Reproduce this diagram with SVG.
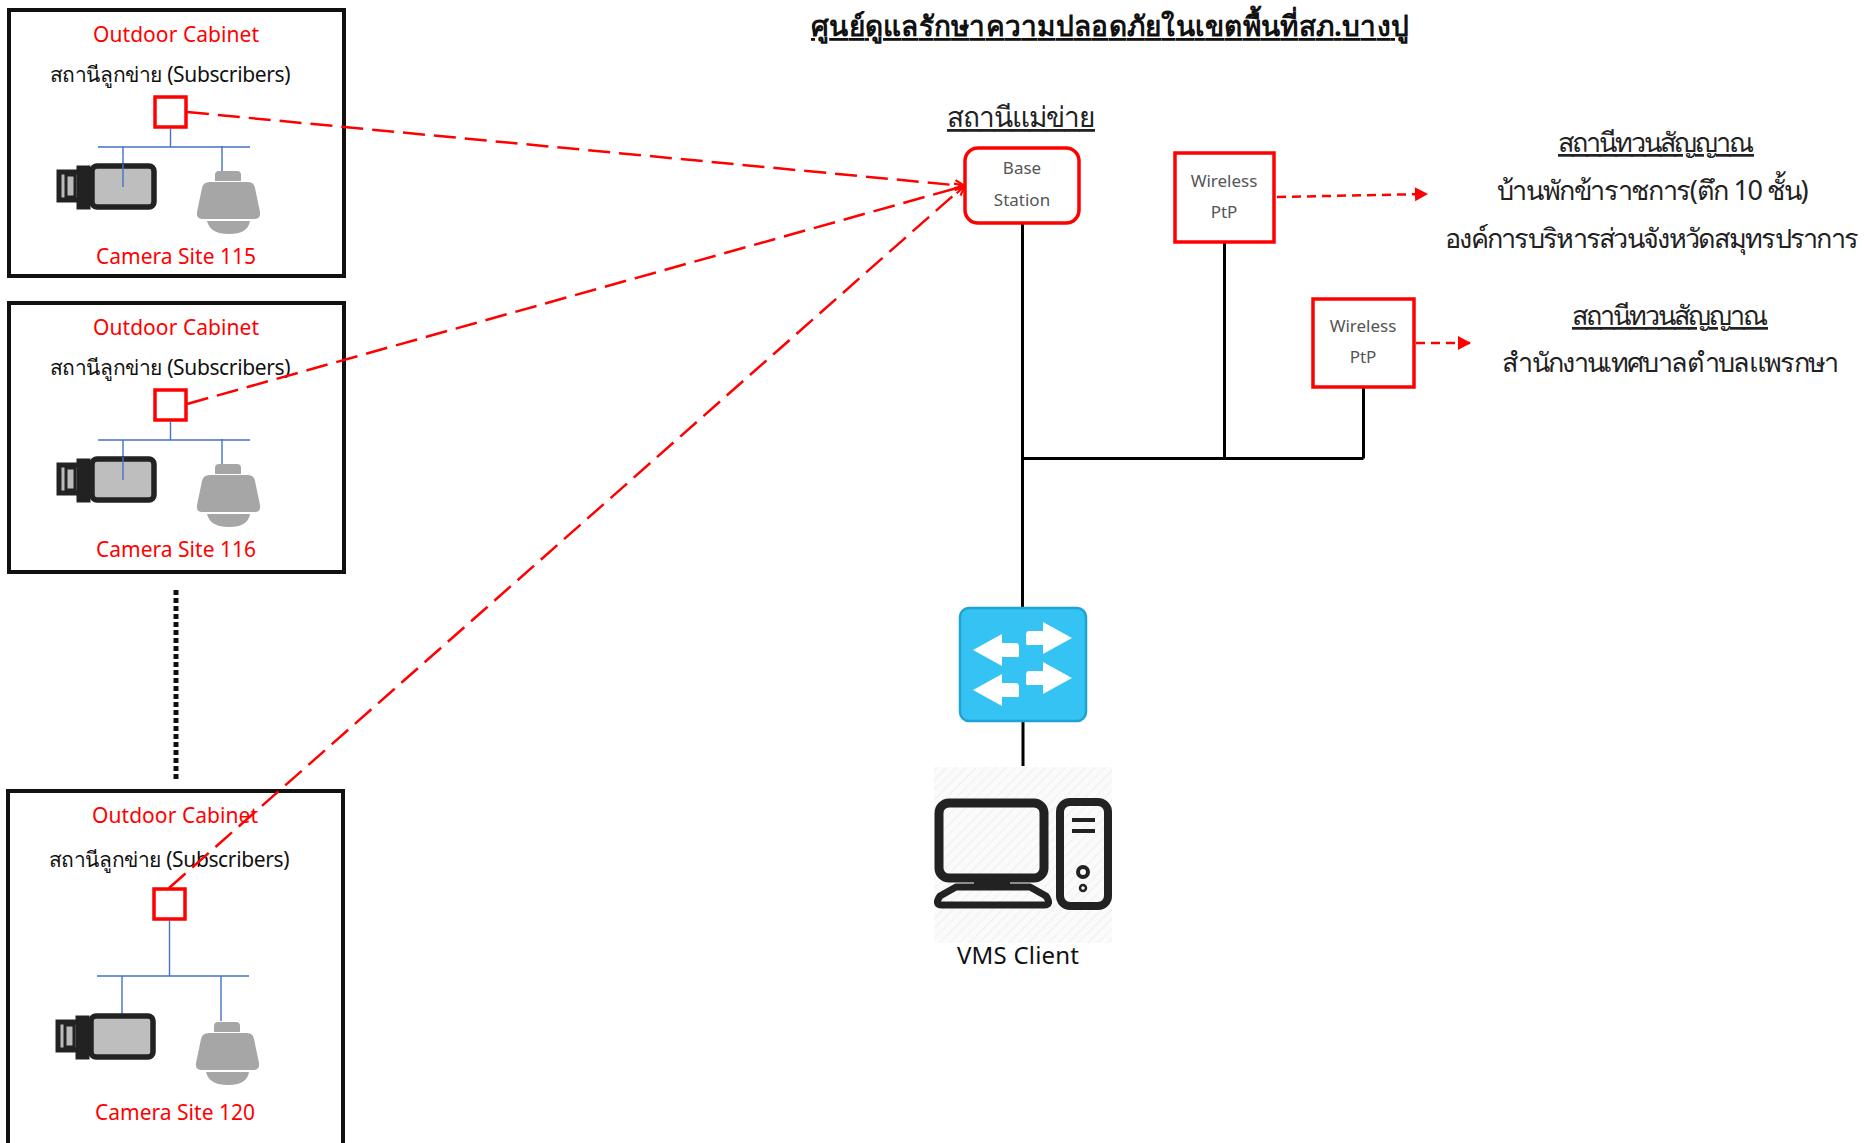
<svg xmlns="http://www.w3.org/2000/svg" xmlns:xlink="http://www.w3.org/1999/xlink" width="1865" height="1143" viewBox="0 0 1865 1143">
<style>
text{font-family:"Noto Sans","Open Sans","DejaVu Sans",sans-serif;text-anchor:middle}
.red{fill:#f00;font-size:21px}
.blk{fill:#111;font-size:21px}
.th{fill:#222;font-size:27px}
.sm{fill:#555;font-size:17px}
.box{fill:#fff;stroke:#111;stroke-width:4}
.rsq{fill:#fff;stroke:#f00;stroke-width:3.5}
.blue{stroke:#4472c4;stroke-width:1.4;fill:none}
.dash{stroke:#f00;stroke-width:2.5;fill:none;stroke-dasharray:22 9}
.dash2{stroke:#f00;stroke-width:2.5;fill:none;stroke-dasharray:9 6}
.wire{stroke:#000;stroke-width:3;fill:none}
</style>
<defs>
<marker id="open" markerWidth="12" markerHeight="12" refX="10" refY="6" orient="auto" markerUnits="userSpaceOnUse"><path d="M1 1L11 6L1 11" fill="none" stroke="#f00" stroke-width="2.2"/></marker>
<marker id="tri" markerWidth="16" markerHeight="16" refX="13" refY="8" orient="auto" markerUnits="userSpaceOnUse"><path d="M1 1L14 8L1 15Z" fill="#f00"/></marker>
<pattern id="hatch" width="7" height="7" patternUnits="userSpaceOnUse" patternTransform="rotate(-45)"><rect width="7" height="7" fill="#fbfbfb"/><rect width="7" height="2" fill="#f4f4f4"/></pattern>
<g id="cam">
<rect x="59" y="172" width="24" height="28" fill="#bbb" stroke="#222" stroke-width="5"/>
<rect x="66" y="175" width="9" height="22" fill="#bbb" stroke="#222" stroke-width="3"/>
<rect x="78" y="167" width="11" height="41" fill="#222" stroke="#222" stroke-width="3"/>
<rect x="92" y="166" width="62" height="41" rx="5" fill="#bebebe" stroke="#222" stroke-width="5.500"/>
</g>
<g id="dome">
<path d="M215 181v-6q0-4 4-4h18q4 0 4 4v6z" fill="#a6a6a6"/>
<path d="M210 182h38q6 0 7 6l5 24q1 7-5 7H202q-6 0-5-7l5-24q1-6 8-6z" fill="#a6a6a6"/>
<path d="M207 221h43q-2 13-21 13t-22-13z" fill="#a6a6a6"/>
</g>
</defs>
<rect width="1865" height="1143" fill="#fff"/>
<text id="title" x="1110" y="36" style="font-size:28px;font-weight:700;text-decoration:underline" fill="#111" textLength="598">ศูนย์ดูแลรักษาความปลอดภัยในเขตพื้นที่สภ.บางปู</text>
<g id="site115">
<rect class="box" x="9" y="10" width="335" height="266"/>
<text class="red" x="176" y="42" textLength="166">Outdoor Cabinet</text>
<text class="blk" x="170" y="82" textLength="241">สถานีลูกข่าย (Subscribers)</text>
<rect class="rsq" x="155" y="97" width="31" height="30"/>
<path class="blue" d="M170.500 128V147M98 147H250M123 147V187M222 146V171"/>
<use xlink:href="#cam"/><use xlink:href="#dome"/>
<path class="blue" d="M123 164V187"/>
<text class="red" x="176" y="264" textLength="160">Camera Site 115</text>
</g>
<g id="site116" transform="translate(0 293)">
<rect class="box" x="9" y="10" width="335" height="269"/>
<text class="red" x="176" y="42" textLength="166">Outdoor Cabinet</text>
<text class="blk" x="170" y="82" textLength="241">สถานีลูกข่าย (Subscribers)</text>
<rect class="rsq" x="155" y="97" width="31" height="30"/>
<path class="blue" d="M170.500 128V147M98 147H250M123 147V187M222 146V171"/>
<use xlink:href="#cam"/><use xlink:href="#dome"/>
<path class="blue" d="M123 164V187"/>
<text class="red" x="176" y="264" textLength="160">Camera Site 116</text>
</g>
<g id="site120">
<rect class="box" x="8" y="791" width="335" height="360"/>
<text class="red" x="175" y="823" textLength="166">Outdoor Cabinet</text>
<text class="blk" x="169" y="867" textLength="241">สถานีลูกข่าย (Subscribers)</text>
<rect class="rsq" x="154" y="889" width="31" height="30"/>
<path class="blue" d="M169.500 920V976M97 976H249M122 976V1016M221 976V1021"/>
<use xlink:href="#cam" transform="translate(-1 850)"/><use xlink:href="#dome" transform="translate(-1 851)"/>
<text class="red" x="175" y="1120" textLength="160">Camera Site 120</text>
</g>
<g id="connectors">
<path class="dash" marker-end="url(#open)" d="M187 112L964 186"/>
<path class="dash" marker-end="url(#open)" d="M187 404L964 186"/>
<path class="dash" marker-end="url(#open)" d="M169 888L964 186"/>
<path d="M176 590V780" stroke="#111" stroke-width="5" stroke-dasharray="5 3" fill="none"/>
<path class="dash2" marker-end="url(#tri)" d="M1277 197L1427 194"/>
<path class="dash2" marker-end="url(#tri)" d="M1401 343L1470 343"/>
<path class="wire" d="M1022.500 223V608M1022.500 458.500H1363.500M1224.500 242V458.500M1363.500 387V458.500M1023 721V766"/>
</g>
<text id="mainlabel" x="1021" y="127" style="font-size:28px;text-decoration:underline" fill="#222" textLength="148">สถานีแม่ข่าย</text>
<g id="base">
<rect x="965" y="148" width="114" height="75" rx="13" fill="#fff" stroke="#f00" stroke-width="3.500"/>
<text class="sm" x="1022" y="174">Base</text>
<text class="sm" x="1022" y="206">Station</text>
</g>
<g id="ptp1">
<rect x="1175" y="153" width="99" height="89" fill="#fff" stroke="#f00" stroke-width="3.500"/>
<text class="sm" x="1224" y="187">Wireless</text>
<text class="sm" x="1224" y="218">PtP</text>
</g>
<g id="ptp2">
<rect x="1313" y="299" width="101" height="88" fill="#fff" stroke="#f00" stroke-width="3.500"/>
<text class="sm" x="1363" y="332">Wireless</text>
<text class="sm" x="1363" y="363">PtP</text>
</g>
<g id="relay1">
<text class="th" x="1656" y="152" style="text-decoration:underline" textLength="196">สถานีทวนสัญญาณ</text>
<text class="th" x="1652" y="200" textLength="312">บ้านพักข้าราชการ(ตึก 10 ชั้น)</text>
<text class="th" x="1652" y="248" textLength="414">องค์การบริหารส่วนจังหวัดสมุทรปราการ</text>
</g>
<g id="relay2">
<text class="th" x="1670" y="325" style="text-decoration:underline" textLength="196">สถานีทวนสัญญาณ</text>
<text class="th" x="1670" y="372" textLength="337">สำนักงานเทศบาลตำบลแพรกษา</text>
</g>
<g id="switch">
<rect x="960" y="608" width="126" height="113" rx="9" fill="#34c3f2" stroke="#1ea3d6" stroke-width="2.500"/>
<path d="M973 650L1002 634V643H1016Q1019 643 1019 647V655Q1019 658 1016 657H1002V666Z" fill="#fff"/>
<path d="M1072 638L1043 622V631H1029Q1026 631 1026 635V643Q1026 646 1029 645H1043V654Z" fill="#fff"/>
<path d="M973 690L1002 674V683H1016Q1019 683 1019 687V695Q1019 698 1016 697H1002V706Z" fill="#fff"/>
<path d="M1072 678L1043 662V671H1029Q1026 671 1026 675V683Q1026 686 1029 685H1043V694Z" fill="#fff"/>
</g>
<g id="client">
<rect x="934" y="767" width="178" height="176" fill="url(#hatch)"/>
<rect x="939" y="803" width="105" height="75" rx="10" fill="none" stroke="#222" stroke-width="9"/>
<path d="M974 882H1010V890H974Z" fill="#222"/>
<path d="M956 887H1030L1046 896Q1052 905 1044 905H942Q934 905 940 896Z" fill="none" stroke="#222" stroke-width="7" stroke-linejoin="round"/>
<rect x="1060" y="802" width="48" height="104" rx="10" fill="none" stroke="#222" stroke-width="8"/>
<path d="M1072 820H1095M1072 831H1095" stroke="#222" stroke-width="4"/>
<circle cx="1083" cy="872" r="5" fill="none" stroke="#222" stroke-width="4"/>
<circle cx="1083" cy="888" r="3" fill="none" stroke="#222" stroke-width="2.500"/>
<text x="1018" y="964" style="font-size:24px" fill="#111" textLength="122">VMS Client</text>
</g>
</svg>
